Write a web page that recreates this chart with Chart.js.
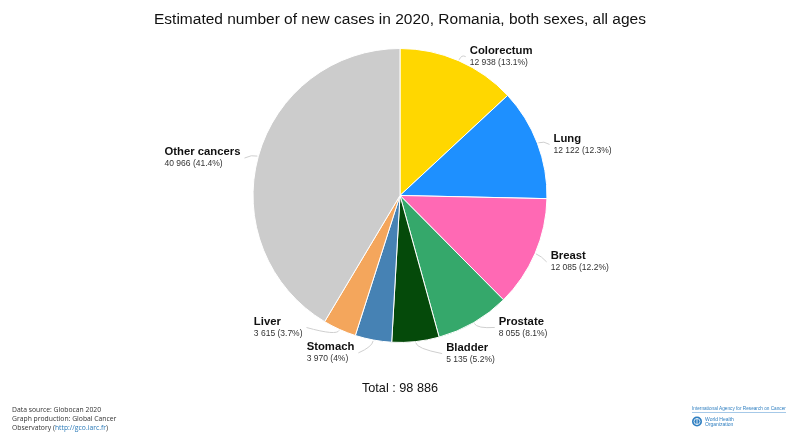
<!DOCTYPE html>
<html>
<head>
<meta charset="utf-8">
<script src="https://cdn.jsdelivr.net/npm/chart.js@4/dist/chart.umd.min.js"></script>
<style>
  html, body { margin: 0; padding: 0; background: #fff; }
  #c { display: block; }
</style>
</head>
<body>
<canvas id="c" width="800" height="443"></canvas>
<script>
// ---- Data ----
const categories = ['Colorectum', 'Lung', 'Breast', 'Prostate', 'Bladder', 'Stomach', 'Liver', 'Other cancers'];
const newCases = [12938, 12122, 12085, 8055, 5135, 3970, 3615, 40966];
const sliceColors = ['#FFD700', '#1E90FF', '#FF69B4', '#35A86B', '#054A0A', '#4682B4', '#F4A65C', '#CCCCCC'];
const chartTitle = 'Estimated number of new cases in 2020, Romania, both sexes, all ages';
const footerLines = ['Data source: Globocan 2020', 'Graph production: Global Cancer', 'Observatory ('];
const footerLink = 'http://gco.iarc.fr';

// ---- Layout (label offsets from arc anchor: [gap, dy]) ----
const labelOffsets = [[9, 0.5], [11.5, 3], [11, 6.5], [22.5, 0.5], [30, 7], [18, 8], [35, -6.5], [13, 3]];

const total = newCases.reduce((a, b) => a + b, 0);
const fmt = n => String(n).replace(/\B(?=(\d{3})+(?!\d))/g, ' ');
const pct = n => { let s = (n / total * 100).toFixed(1); if (s.endsWith('.0')) s = s.slice(0, -2); return s + '%'; };

const FONT = '"Liberation Sans", Arial, Helvetica, sans-serif';

const labelPlugin = {
  id: 'pieLabels',
  afterDatasetsDraw(chart) {
    const ctx = chart.ctx;
    const meta = chart.getDatasetMeta(0);
    meta.data.forEach((arc, i) => {
      const p = arc.getProps(['x', 'y', 'startAngle', 'endAngle', 'outerRadius'], true);
      const mid = (p.startAngle + p.endAngle) / 2;
      const ux = Math.cos(mid), uy = Math.sin(mid);
      const r = p.outerRadius;
      const ax = p.x + (r + 5) * ux, ay = p.y + (r + 5) * uy;
      const name = categories[i];
      const val = fmt(newCases[i]) + ' (' + pct(newCases[i]) + ')';
      ctx.save();
      ctx.font = 'bold 11.3px ' + FONT;
      const w1 = ctx.measureText(name).width;
      ctx.font = '8.5px ' + FONT;
      const w2 = ctx.measureText(val).width;
      const bw = Math.max(w1, w2);
      const [gap, dy] = labelOffsets[i];
      const right = ux >= 0;
      const left = right ? ax + gap : ax - gap - bw;
      const cy = ay + dy;
      // connector
      const ex = p.x + (r + 1) * ux, ey = p.y + (r + 1) * uy;
      const cx2 = p.x + (r + 7) * ux, cy2 = p.y + (r + 7) * uy;
      const tx = right ? left - 4 : left + bw + 4;
      const ty = cy;
      ctx.strokeStyle = '#cfcfcf';
      ctx.lineWidth = 1;
      ctx.beginPath();
      ctx.moveTo(ex, ey);
      ctx.quadraticCurveTo(cx2, cy2, tx, ty);
      ctx.stroke();
      // text
      ctx.textAlign = 'left';
      ctx.textBaseline = 'middle';
      ctx.fillStyle = '#111';
      ctx.font = 'bold 11.3px ' + FONT;
      ctx.fillText(name, left, cy - 6);
      ctx.fillStyle = '#333';
      ctx.font = '8.5px ' + FONT;
      ctx.fillText(val, left, cy + 6);
      ctx.restore();
    });
  },
  afterDraw(chart) {
    const ctx = chart.ctx;
    ctx.save();
    // footer left
    ctx.font = '6.8px "Open Sans", "DejaVu Sans", sans-serif';
    ctx.textBaseline = 'middle';
    ctx.textAlign = 'left';
    ctx.fillStyle = '#333';
    ctx.fillText(footerLines[0], 12, 410.5);
    ctx.fillText(footerLines[1], 12, 419.3);
    ctx.fillText(footerLines[2], 12, 428);
    let x = 12 + ctx.measureText(footerLines[2]).width;
    ctx.fillStyle = '#2a7ab8';
    ctx.fillText(footerLink, x, 428);
    x += ctx.measureText(footerLink).width;
    ctx.fillStyle = '#333';
    ctx.fillText(')', x, 428);
    // logo right
    ctx.fillStyle = '#2f7fc1';
    ctx.font = '4.7px "Liberation Sans", Arial, sans-serif';
    ctx.fillText('International Agency for Research on Cancer', 692, 409);
    ctx.strokeStyle = '#7fb2de';
    ctx.lineWidth = 0.7;
    ctx.beginPath();
    ctx.moveTo(692, 412.5);
    ctx.lineTo(786, 412.5);
    ctx.stroke();
    // WHO emblem
    ctx.fillStyle = '#2f7fc1';
    ctx.beginPath();
    ctx.arc(697, 421.5, 5, 0, Math.PI * 2);
    ctx.fill();
    ctx.strokeStyle = '#fff';
    ctx.lineWidth = 0.8;
    ctx.beginPath();
    ctx.arc(697, 421.5, 3, 0, Math.PI * 2);
    ctx.stroke();
    ctx.beginPath();
    ctx.moveTo(697, 418);
    ctx.lineTo(697, 425);
    ctx.stroke();
    ctx.fillStyle = '#2f7fc1';
    ctx.font = '5px "Liberation Sans", Arial, sans-serif';
    ctx.fillText('World Health', 705, 419.3);
    ctx.fillText('Organization', 705, 424.3);
    ctx.restore();
  }
};

new Chart(document.getElementById('c'), {
  type: 'pie',
  data: {
    labels: categories,
    datasets: [{
      data: newCases,
      backgroundColor: sliceColors,
      borderColor: '#ffffff',
      borderWidth: 1
    }]
  },
  options: {
    responsive: false,
    animation: false,
    devicePixelRatio: 1,
    layout: { padding: 0 },
    plugins: {
      legend: { display: false },
      tooltip: { enabled: false },
      title: {
        display: true,
        text: chartTitle,
        color: '#111',
        font: { family: FONT, size: 15.5, weight: 'normal' },
        padding: { top: 10, bottom: 19.4 }
      },
      subtitle: {
        display: true,
        position: 'bottom',
        text: 'Total : ' + fmt(total),
        color: '#111',
        font: { family: FONT, size: 12.7, weight: 'normal' },
        padding: { top: 38.4, bottom: 46.4 }
      }
    }
  },
  plugins: [labelPlugin]
});
</script>
</body>
</html>
